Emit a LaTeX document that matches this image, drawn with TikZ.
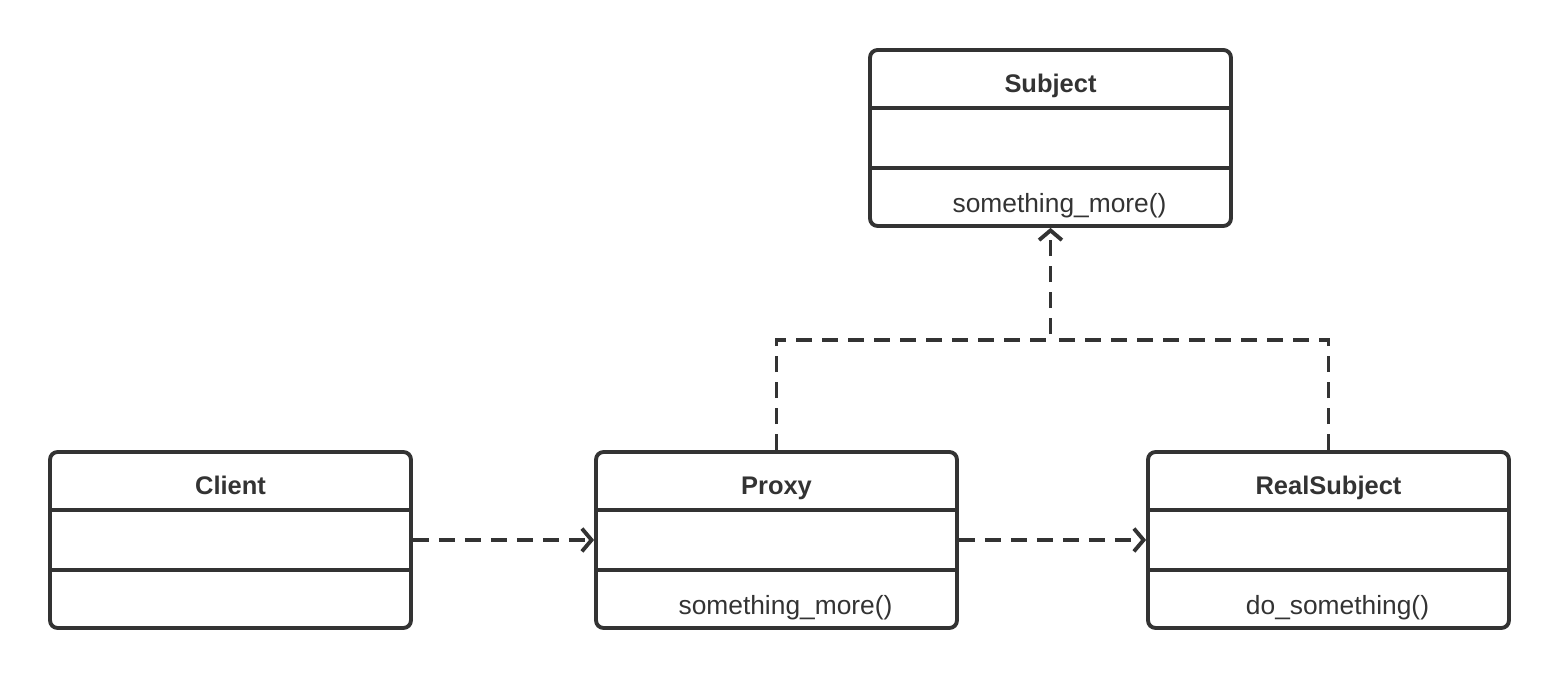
\documentclass[tikz,border=0pt]{standalone}
\usepackage{fontspec}
\setmainfont{Liberation Sans}
\usetikzlibrary{calc, arrows.meta}
\definecolor{umlgray}{HTML}{333333}

\begin{document}
\begin{tikzpicture}[x = 0.02cm, y = -0.02cm,
		classbox/.style = {draw = umlgray, line width = 2.2pt, rounded corners = 0.15cm,
			minimum width = 7.22cm, minimum height = 3.52cm, inner sep = 0pt},
		classline/.style = {draw = umlgray, line width = 2pt},
		title/.style = {anchor = base, text = umlgray, font = \fontsize{14.5pt}{17pt}\selectfont\bfseries},
		method/.style = {anchor = base, text = umlgray, font = \fontsize{15pt}{18pt}\selectfont},
		dep/.style = {draw = umlgray, line width = 2.2pt, dash pattern = on 0.32cm off 0.2cm,
			-{Straight Barb[length = 5.5pt, width = 13pt]}}]
			\useasboundingbox (0,0) rectangle (1560,678);
			\def\row{60};
			
			\foreach \name/\x/\y/\title/\method in {subject/1050.5/138/Subject/something\_more(),
					client/230.5/540/Client/, proxy/776.5/540/Proxy/something\_more(),
					real/1328.5/540/RealSubject/do\_something()} {
				\node [classbox] (\name) at (\x,\y) {};
				\draw [classline] ($(\name.north west)+(0,\row)$) -- ($(\name.north east)+(0,\row)$);
				\draw [classline] ($(\name.north west)+(0,2*\row)$) -- ($(\name.north east)+(0,2*\row)$);
				\node [title] (\name-title) at ($(\name.north)+(0,44)$) {\title};
				\node [method] (\name-method) at ($(\name.north)+(9,164)$) {\method};
			}
			
			\coordinate (join) at ($(subject.south)+(0,112)$);
			\draw [dep] (client.east) -- (proxy.west);
			\draw [dep] (proxy.east) -- (real.west);
			\draw [dep, -] (real.north) |- (join);
			\draw [dep] (proxy.north) |- (join) -- (subject.south);
			
		\end{tikzpicture}
\end{document}
